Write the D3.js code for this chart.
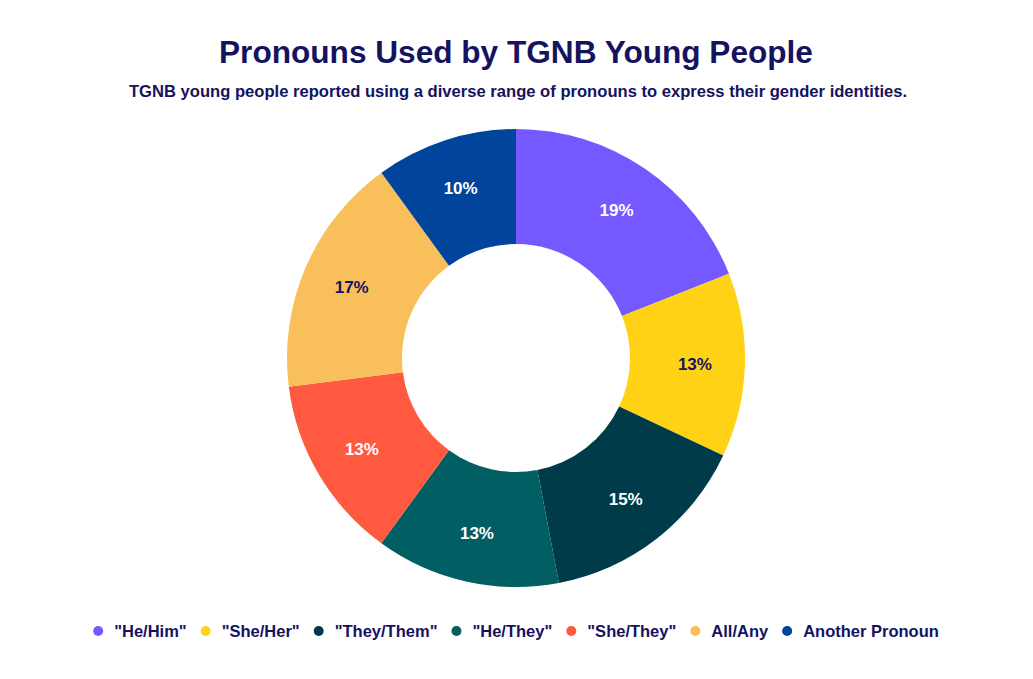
<!DOCTYPE html>
<html>
<head>
<meta charset="utf-8">
<script src="https://cdn.jsdelivr.net/npm/d3@7"></script>
<style>
  body { margin: 0; background: #fff; }
  text { font-family: "Liberation Sans", Arial, sans-serif; font-weight: bold; }
</style>
</head>
<body>
<svg id="chart"></svg>
<script>
// Chart data
const categories = ['"He/Him"', '"She/Her"', '"They/Them"', '"He/They"', '"She/They"', 'All/Any', 'Another Pronoun'];
const shares = [19, 13, 15, 13, 13, 17, 10];
const colors = ["#7558ff", "#ffd215", "#003b4a", "#015e63", "#ff5a3f", "#f8bf5a", "#00449b"];
const darkLabel = [false, true, false, false, false, true, false];

const width = 1033, height = 679;
const navy = "#15135f";
const cx = 516, cy = 358;
const outerR = 229, innerR = 114;

const svg = d3.select("#chart")
    .attr("width", width)
    .attr("height", height);

// Title and subtitle
svg.append("text")
    .attr("x", cx).attr("y", 63)
    .attr("text-anchor", "middle")
    .attr("font-size", 31.6)
    .attr("fill", navy)
    .text("Pronouns Used by TGNB Young People");

svg.append("text")
    .attr("x", cx + 2).attr("y", 97)
    .attr("text-anchor", "middle")
    .attr("font-size", 16.6)
    .attr("fill", navy)
    .text("TGNB young people reported using a diverse range of pronouns to express their gender identities.");

// Donut
const data = categories.map((c, i) => ({ name: c, value: shares[i], color: colors[i], dark: darkLabel[i] }));
const pie = d3.pie().value(d => d.value).sort(null);
const arc = d3.arc().innerRadius(innerR).outerRadius(outerR);
const labelArc = d3.arc().innerRadius(179).outerRadius(179);

const g = svg.append("g").attr("transform", `translate(${cx},${cy})`);
const arcs = pie(data);

g.selectAll("path.slice")
    .data(arcs)
    .enter().append("path")
    .attr("class", "slice")
    .attr("d", arc)
    .attr("fill", d => d.data.color);

g.selectAll("text.label")
    .data(arcs)
    .enter().append("text")
    .attr("class", "label")
    .attr("transform", d => `translate(${labelArc.centroid(d)})`)
    .attr("text-anchor", "middle")
    .attr("dy", "0.35em")
    .attr("font-size", 17)
    .attr("fill", d => d.data.dark ? navy : "#ffffff")
    .text(d => d.data.value + "%");

// Legend, centred under the chart
const legend = svg.append("g");
const items = legend.selectAll("g.item")
    .data(data)
    .enter().append("g")
    .attr("class", "item");

items.append("circle")
    .attr("r", 5)
    .attr("cy", 0)
    .attr("fill", d => d.color);

items.append("text")
    .attr("x", 16)
    .attr("dy", "0.35em")
    .attr("font-size", 16.5)
    .attr("fill", navy)
    .text(d => d.name);

let xPos = 0;
items.each(function () {
    const w = this.querySelector("text").getComputedTextLength();
    d3.select(this).attr("transform", `translate(${xPos},0)`);
    xPos += 16 + w + 19;
});
const legendWidth = xPos - 19 + 5;
legend.attr("transform", `translate(${cx - legendWidth / 2 + 5},631)`);
</script>
</body>
</html>
